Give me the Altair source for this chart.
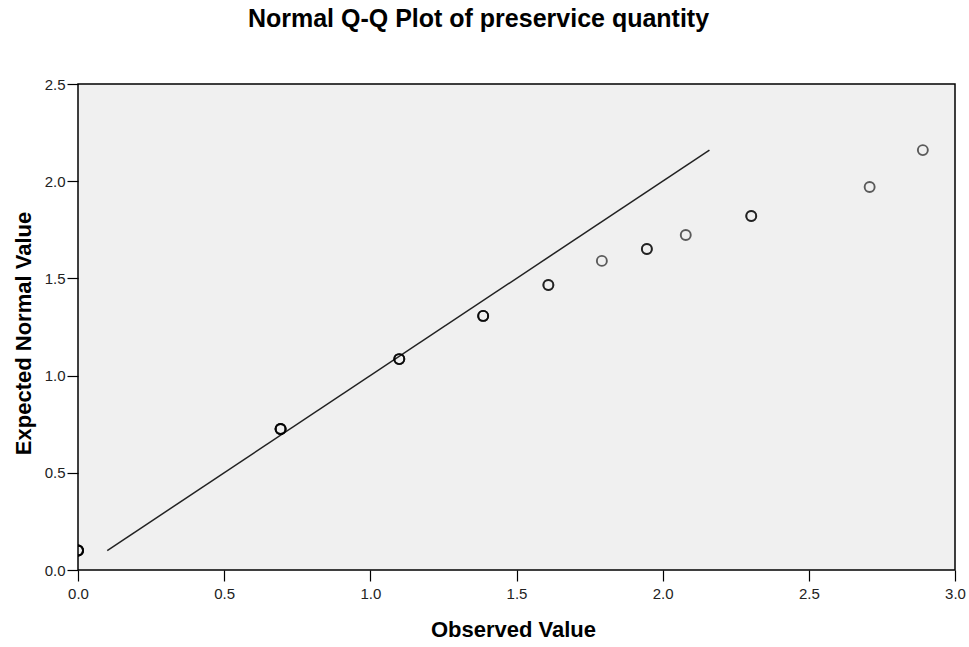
import altair as alt
import pandas as pd

# Observed values (ln scale) with number of tied cases, and expected normal values
observed = [0.0, 0.693, 1.099, 1.386, 1.609, 1.792, 1.946, 2.079, 2.303, 2.708, 2.890]
expected = [0.10, 0.725, 1.085, 1.307, 1.466, 1.59, 1.651, 1.723, 1.821, 1.97, 2.16]
ties = [5, 4, 3, 3, 2, 1, 2, 1, 2, 1, 1]

line_x = [0.10, 2.16]
line_y = [0.10, 2.16]

x_ticks = [0.0, 0.5, 1.0, 1.5, 2.0, 2.5, 3.0]
y_ticks = [0.0, 0.5, 1.0, 1.5, 2.0, 2.5]

rows = []
for o, e, n in zip(observed, expected, ties):
    for _ in range(n):
        rows.append({"obs": o, "exp": e})
pts = pd.DataFrame(rows)
ref = pd.DataFrame({"obs": line_x, "exp": line_y})

FONT = "Liberation Sans"

xscale = alt.Scale(domain=[0, 3.0], nice=False, zero=False)
yscale = alt.Scale(domain=[0, 2.5], nice=False, zero=False)

xaxis = alt.Axis(
    title="Observed Value", values=x_ticks, format=".1f", grid=False, domain=False,
    tickSize=11, tickColor="#000", tickWidth=1.2, labelPadding=5, labelFlush=False,
    labelFont=FONT, labelFontSize=15, labelColor="#222",
    titleFont=FONT, titleFontSize=22, titleFontWeight="bold", titleColor="#000",
    titleBaseline="alphabetic", titleX=435, titleY=66,
)
yaxis = alt.Axis(
    title="Expected Normal Value", values=y_ticks, format=".1f", grid=False, domain=False,
    tickSize=11, tickColor="#000", tickWidth=1.2, labelPadding=2, labelFlush=False,
    labelFont=FONT, labelFontSize=15, labelColor="#222",
    titleFont=FONT, titleFontSize=22, titleFontWeight="bold", titleColor="#000",
    titleBaseline="alphabetic", titleX=-48, titleY=249, titleAngle=-90,
)

points = alt.Chart(pts).mark_point(
    shape="circle", filled=False, size=100, stroke="#000", strokeWidth=1.9,
    opacity=0.62, clip=True,
).encode(
    x=alt.X("obs:Q", scale=xscale, axis=xaxis),
    y=alt.Y("exp:Q", scale=yscale, axis=yaxis),
)

line = alt.Chart(ref).mark_line(color="#222", strokeWidth=1.5).encode(
    x=alt.X("obs:Q", scale=xscale),
    y=alt.Y("exp:Q", scale=yscale),
)

chart = alt.layer(line, points).properties(
    width=877, height=486,
    title=alt.TitleParams(
        "Normal Q-Q Plot of preservice quantity", font=FONT, fontSize=25,
        fontWeight="bold", color="#000", anchor="middle", dx=-38, offset=45,
    ),
    autosize=alt.AutoSizeParams(type="none"),
    padding={"left": 78, "top": 84, "right": 14, "bottom": 77},
    background="white",
).configure_view(fill="#f0f0f0", stroke="#000", strokeWidth=1.5)

chart.save("out.html", embed_options={"renderer": "svg", "actions": False})
